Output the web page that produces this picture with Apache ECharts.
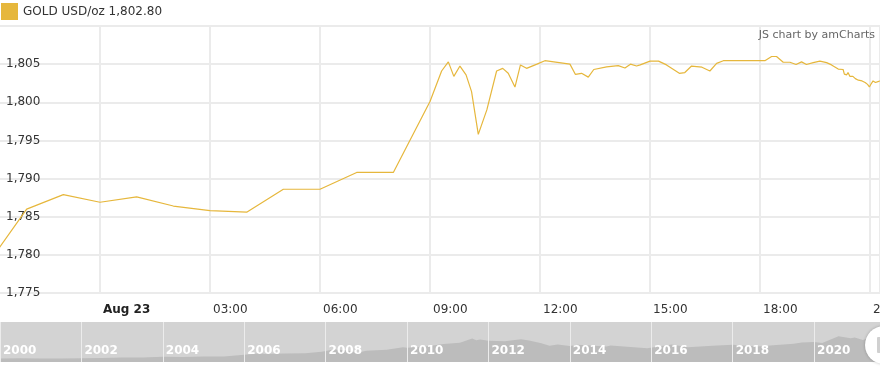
<!DOCTYPE html>
<html>
<head>
<meta charset="utf-8">
<script src="https://cdn.jsdelivr.net/npm/echarts@6/dist/echarts.min.js"></script>
<style>
html,body{margin:0;padding:0;background:#fff;}
#chart{width:880px;height:369px;}
</style>
</head>
<body>
<div id="chart"></div>
<script>
// ---- Data ----
const seriesName = 'GOLD USD/oz';
const times = [
 '22 21:00','22 22:00','22 23:00','23 00:00','23 01:00','23 02:00','23 03:00','23 04:00',
 '23 05:00','23 06:00','23 07:00','23 08:00','23 09:00','23 09:19','23 09:30','23 09:39',
 '23 09:49','23 09:59','23 10:08','23 10:19','23 10:33','23 10:49','23 10:59','23 11:08',
 '23 11:19','23 11:28','23 11:38','23 11:55','23 12:08','23 12:49','23 12:58','23 13:08',
 '23 13:19','23 13:28','23 13:49','23 14:08','23 14:19','23 14:28','23 14:38','23 14:44',
 '23 15:00','23 15:14','23 15:27','23 15:48','23 15:57','23 16:08','23 16:25','23 16:38',
 '23 16:49','23 17:00','23 18:08','23 18:19','23 18:27','23 18:38','23 18:49','23 18:59',
 '23 19:08','23 19:16','23 19:27','23 19:38','23 19:49','23 19:57','23 20:08','23 20:16',
 '23 20:18','23 20:20','23 20:22','23 20:24','23 20:27','23 20:30','23 20:32','23 20:34',
 '23 20:36','23 20:38','23 20:41','23 20:44','23 20:47','23 20:50','23 20:52','23 20:54',
 '23 20:56','23 20:58','23 20:59','23 21:01','23 21:03','23 21:05','23 21:07','23 21:09',
 '23 21:11','23 21:13','23 21:16'
];
const prices = [
 1779.2,1786.0,1787.9,1786.9,1787.6,1786.4,1785.8,1785.6,
 1788.6,1788.6,1790.8,1790.8,1800.1,1804.1,1805.3,1803.4,
 1804.75,1803.6,1801.4,1795.8,1799.0,1804.1,1804.45,1803.8,
 1802.0,1804.9,1804.45,1805.0,1805.45,1805.0,1803.65,1803.8,
 1803.3,1804.3,1804.65,1804.8,1804.5,1805.0,1804.75,1804.9,
 1805.4,1805.4,1804.9,1803.8,1803.9,1804.75,1804.6,1804.1,
 1805.1,1805.45,1805.45,1806.0,1806.0,1805.25,1805.25,1804.95,
 1805.3,1804.95,1805.2,1805.4,1805.2,1804.9,1804.35,1804.3,
 1803.7,1803.9,1803.6,1803.9,1803.4,1803.6,1803.4,1803.45,
 1803.1,1803.2,1802.9,1803.0,1802.8,1802.85,1802.6,1802.7,
 1802.35,1802.4,1802.0,1802.3,1802.5,1802.8,1802.95,1802.6,
 1802.45,1802.7,1802.8
];
const timeTickLabels = ['Aug 23','03:00','06:00','09:00','12:00','15:00','18:00','21:00'];
const yTicks = [1775,1780,1785,1790,1795,1800,1805,1810];

// overview (scrollbar) history
const histYears = [
 2000.0,2000.5,2001.0,2001.5,2002.0,2002.5,2003.0,2003.5,2004.0,2004.5,2005.0,2005.5,
 2006.0,2006.4,2006.5,2007.0,2007.5,2007.9,2008.2,2008.5,2008.8,2009.0,2009.5,2009.9,
 2010.0,2010.5,2010.9,2011.3,2011.6,2011.7,2011.8,2012.0,2012.4,2012.8,2013.0,2013.3,
 2013.5,2013.7,2014.0,2014.2,2014.9,2015.0,2015.9,2016.5,2016.9,2017.5,2018.0,2018.6,
 2019.0,2019.5,2019.7,2020.0,2020.2,2020.6,2020.9,2021.0,2021.2,2021.4,2021.62
];
const histPrices = [
 280,285,265,270,285,315,355,350,410,395,425,430,
 560,680,620,650,670,800,960,920,740,880,940,1150,
 1100,1230,1390,1500,1830,1680,1750,1650,1600,1770,1670,1450,
 1250,1350,1240,1330,1200,1280,1070,1350,1150,1250,1340,1200,
 1290,1420,1510,1550,1480,2000,1850,1900,1700,1900,1790
];
const yearTicks = [2000,2002,2004,2006,2008,2010,2012,2014,2016,2018,2020];

// ---- helpers ----
function toMinutes(s){
  const [d, hm] = s.split(' ');
  const [h, m] = hm.split(':').map(Number);
  return (Number(d) - 23) * 1440 + h * 60 + m;
}
const lineData = times.map((t, i) => [toMinutes(t), prices[i]]);
const histData = histYears.map((y, i) => [y, histPrices[i]]);
const lastPrice = prices[prices.length - 1];
const fmt2 = v => v.toLocaleString('en-US', {minimumFractionDigits: 2, maximumFractionDigits: 2});

const FONT = 'DejaVu Sans, Verdana, sans-serif';
const GOLD = '#e6b73c';
const GRIDC = '#ebebeb';

const chart = echarts.init(document.getElementById('chart'), null, {renderer: 'canvas'});
chart.setOption({
  animation: false,
  textStyle: {fontFamily: FONT},
  legend: {
    left: 1, top: 3, padding: 0,
    icon: 'rect', itemWidth: 17, itemHeight: 17,
    data: [seriesName],
    formatter: name => name + ' ' + fmt2(lastPrice),
    textStyle: {fontSize: 12, color: '#333', fontFamily: FONT},
    selectedMode: false
  },
  grid: [
    {left: 0, right: 0, top: 26, bottom: 76, containLabel: false, outerBoundsMode: 'none'},
    {left: 100, right: 0, top: 26, bottom: 76, containLabel: false, outerBoundsMode: 'none'},
    {left: 0, right: 0, top: 322, height: 40, show: true, backgroundColor: '#d3d3d3', borderWidth: 0, outerBoundsMode: 'none'}
  ],
  xAxis: [
    {type: 'value', gridIndex: 0, min: -163.64, max: 1276.36,
     axisLabel: {show: false}, axisTick: {show: false}, axisLine: {show: false}, splitLine: {show: false}},
    {type: 'value', gridIndex: 1, min: 0, max: 1276.36, interval: 180,
     axisLine: {show: false}, axisTick: {show: false},
     splitLine: {show: true, lineStyle: {color: GRIDC, width: 2}},
     axisLabel: {
       show: true, align: 'left', margin: 11, padding: [0, 0, 0, 3],
       fontSize: 12, color: '#333', fontFamily: FONT,
       showMinLabel: true, showMaxLabel: false, hideOverlap: false,
       formatter: v => {
         const i = Math.round(v / 180);
         return i === 0 ? '{b|' + timeTickLabels[i] + '}' : (timeTickLabels[i] || '');
       },
       rich: {b: {fontWeight: 'bold', fontSize: 12, color: '#222', fontFamily: FONT}}
     }},
    {type: 'value', gridIndex: 2, min: 2000, max: 2021.62, interval: 2, z: 10,
     axisLine: {show: false}, axisTick: {show: false},
     splitLine: {show: true, lineStyle: {color: '#ececec', width: 1}},
     axisLabel: {
       show: true, inside: true, align: 'left', margin: 5, padding: [0, 0, 0, 3],
       fontSize: 12, fontWeight: 'bold', color: '#ffffff', fontFamily: FONT,
       showMinLabel: true, showMaxLabel: false,
       formatter: v => (yearTicks.indexOf(Math.round(v)) >= 0 ? String(Math.round(v)) : '')
     }}
  ],
  yAxis: [
    {type: 'value', gridIndex: 0, min: yTicks[0], max: yTicks[yTicks.length - 1], interval: 5,
     axisLine: {show: false}, axisTick: {show: false},
     splitLine: {show: true, lineStyle: {color: GRIDC, width: 2}},
     axisLabel: {
       show: true, inside: true, align: 'left', verticalAlign: 'middle', margin: 6,
       padding: [0, 0, 11, 0],
       fontSize: 12, color: '#333', fontFamily: FONT,
       showMaxLabel: false,
       formatter: v => v.toLocaleString('en-US')
     }},
    {type: 'value', gridIndex: 1, min: 1775, max: 1810, show: false, splitLine: {show: false}},
    {type: 'value', gridIndex: 2, min: 0, max: 3100, show: false, splitLine: {show: false}}
  ],
  series: [
    {
      name: seriesName, type: 'line', xAxisIndex: 0, yAxisIndex: 0,
      data: lineData, symbol: 'none', smooth: false, clip: true,
      color: GOLD,
      itemStyle: {color: GOLD},
      lineStyle: {color: GOLD, width: 1.2},
      z: 5
    },
    {
      name: 'history', type: 'line', xAxisIndex: 2, yAxisIndex: 2,
      data: histData, symbol: 'none', smooth: false,
      lineStyle: {width: 0},
      areaStyle: {color: '#bcbcbc', opacity: 1},
      z: 1, silent: true
    }
  ],
  graphic: [
    {type: 'text', right: 5, top: 30, z: 10,
     style: {text: 'JS chart by amCharts', fontSize: 11, fill: '#666', fontFamily: FONT}},
    {type: 'circle', shape: {cx: 884, cy: 345, r: 19}, z: 20,
     style: {fill: '#ffffff', shadowBlur: 3, shadowColor: 'rgba(0,0,0,0.25)'}},
    {type: 'rect', shape: {x: 877, y: 337, width: 6, height: 16, r: 1}, z: 21,
     style: {fill: '#d0d0d0'}}
  ]
});
</script>
</body>
</html>
